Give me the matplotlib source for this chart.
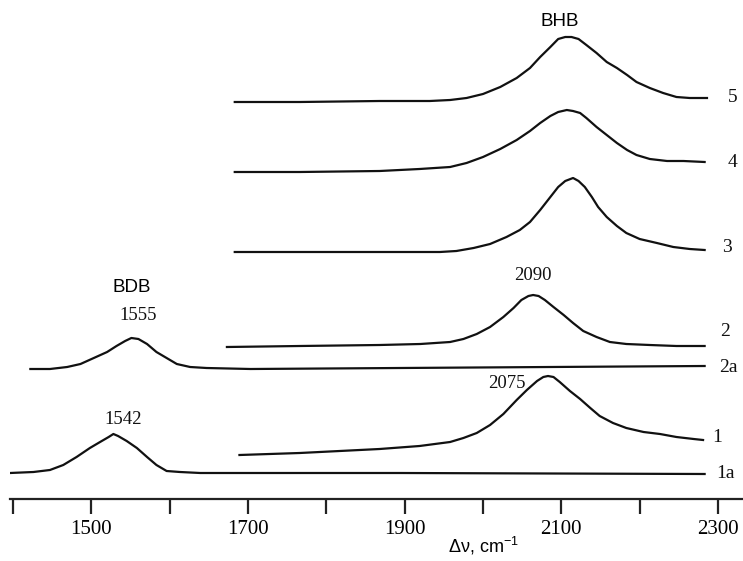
import matplotlib.pyplot as plt

plt.rcParams['mathtext.default'] = 'regular'

# Raman spectra (arbitrary intensity, offset traces)
x5 = [1683, 1766, 1868, 1932, 1958, 1979, 2000, 2022, 2043, 2060, 2073, 2086, 2096, 2105, 2113,
      2122, 2132, 2145, 2158, 2171, 2184, 2196, 2213, 2230, 2247, 2264, 2286]
y5 = [397, 397, 398, 398, 399, 401, 405, 412, 421, 431, 442, 452, 460, 462, 462,
      460, 454, 446, 437, 431, 424, 417, 411, 406, 402, 401, 401]

x4 = [1683, 1766, 1868, 1919, 1958, 1979, 2000, 2022, 2043, 2060, 2073, 2086, 2096, 2107, 2115,
      2124, 2132, 2145, 2158, 2171, 2184, 2196, 2213, 2235, 2256, 2283]
y4 = [327, 327, 328, 330, 332, 336, 342, 350, 359, 368, 376, 383, 387, 389, 388,
      386, 381, 372, 364, 356, 349, 344, 340, 338, 338, 337]

x3 = [1683, 1766, 1868, 1945, 1966, 1988, 2009, 2030, 2047, 2060, 2073, 2086, 2096, 2105, 2115,
      2122, 2130, 2139, 2147, 2158, 2171, 2183, 2200, 2222, 2243, 2264, 2283]
y3 = [247, 247, 247, 247, 248, 251, 255, 262, 269, 277, 289, 302, 312, 318, 321,
      318, 312, 302, 292, 282, 273, 266, 260, 256, 252, 250, 249]

x2 = [1673, 1766, 1868, 1920, 1958, 1975, 1992, 2009, 2026, 2039, 2049, 2058, 2064, 2071, 2079,
      2090, 2103, 2115, 2128, 2145, 2162, 2183, 2213, 2247, 2283]
y2 = [152, 153, 154, 155, 157, 160, 165, 172, 182, 191, 199, 203, 204, 203, 199,
      192, 184, 176, 168, 162, 157, 155, 154, 153, 153]

x2a = [1422, 1447, 1469, 1486, 1503, 1520, 1532, 1543, 1551, 1560, 1571, 1583, 1596, 1609, 1626,
       1647, 1703, 1894, 2086, 2283]
y2a = [130, 130, 132, 135, 141, 147, 153, 158, 161, 160, 155, 147, 141, 135, 132,
       131, 130, 131, 132, 133]

x1 = [1689, 1766, 1868, 1919, 1958, 1975, 1992, 2009, 2026, 2043, 2056, 2069, 2077, 2083, 2090,
      2098, 2111, 2124, 2137, 2149, 2166, 2183, 2205, 2226, 2247, 2269, 2281]
y1 = [44, 46, 50, 53, 57, 61, 66, 74, 85, 99, 109, 118, 122, 123, 122,
      117, 108, 100, 91, 83, 76, 71, 67, 65, 62, 60, 59]

x1a = [1396, 1426, 1447, 1464, 1481, 1498, 1511, 1522, 1528, 1534, 1545, 1558, 1571, 1583, 1596,
       1613, 1639, 1703, 1894, 2283]
y1a = [26, 27, 29, 34, 42, 51, 57, 62, 65, 63, 58, 51, 42, 34, 28,
       27, 26, 26, 26, 25]

traces = [(x5, y5, '5'), (x4, y4, '4'), (x3, y3, '3'), (x2, y2, '2'),
          (x2a, y2a, '2a'), (x1, y1, '1'), (x1a, y1a, '1a')]
label_pos = {'5': (2319, 402), '4': (2319, 337), '3': (2311, 251), '2': (2309, 167),
             '2a': (2313, 131), '1': (2299, 62), '1a': (2309, 26)}

ticks = [1400, 1500, 1600, 1700, 1800, 1900, 2000, 2100, 2200, 2300]
tick_labels = ['', '1500', '', '1700', '', '1900', '', '2100', '', '2300']

fig = plt.figure(figsize=(7.43, 5.61), dpi=100)
ax = fig.add_axes([10 / 743, 62 / 561, 733 / 743, 499 / 561])

for x, y, name in traces:
    ax.plot(x, y, color='#111111', lw=1.6, solid_joinstyle='round')
    lx, ly = label_pos[name]
    ax.text(lx, ly, name, family='Liberation Serif', fontsize=14,
            ha='center', va='center', color='#111111')

# peak annotations
serif = dict(family='Liberation Serif', fontsize=13.5, ha='center', va='center', color='#111111')
ax.text(1560, 183, '1555', **serif)
ax.text(1540, 80, '1542', **serif)
ax.text(2064, 223, '2090', **serif)
ax.text(2031, 115, '2075', **serif)
ax.text(1552, 211, 'BDB', family='Liberation Sans', fontsize=13.5, ha='center', va='center')
ax.text(2098, 477, 'BHB', family='Liberation Sans', fontsize=13.5, ha='center', va='center')

ax.set_xlim(1396, 2332)
ax.set_ylim(0, 499)
for s in ['left', 'right', 'top']:
    ax.spines[s].set_visible(False)
ax.spines['bottom'].set_linewidth(1.6)
ax.spines['bottom'].set_color('#222222')
ax.set_yticks([])
ax.set_xticks(ticks)
ax.set_xticklabels(tick_labels, family='Liberation Serif', fontsize=15)
ax.tick_params(axis='x', direction='out', length=11, width=1.6, pad=4, color='#222222')
ax.set_xlabel('Δν, cm$^{-1}$', family='Liberation Sans', fontsize=13, labelpad=0)
ax.xaxis.set_label_coords(2000, -36, transform=ax.transData)

fig.savefig('out.png', dpi=100)
